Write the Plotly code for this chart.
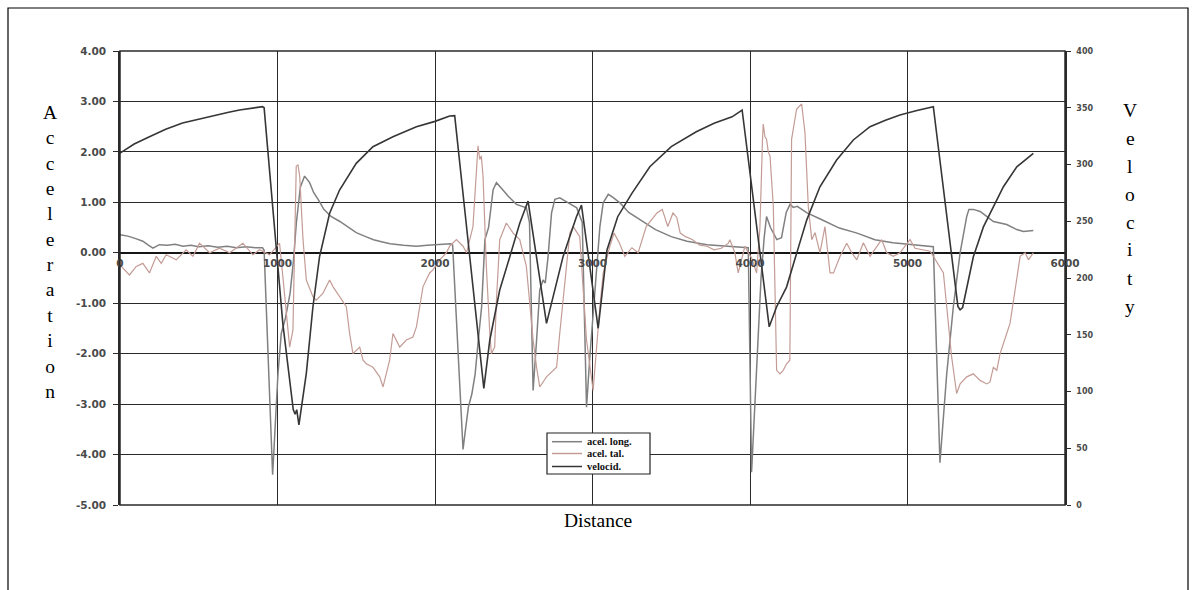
import plotly.graph_objects as go

# ---- lap data: distance (m) vs. acceleration (g) and velocity (km/h) ----
vel_dist = [0, 90, 187, 290, 397, 500, 613, 690, 759, 840, 905, 915, 1034, 1100, 1112, 1122, 1136,
            1183, 1225, 1267, 1331, 1394, 1500, 1606, 1733, 1882, 2000, 2093, 2125, 2220, 2310,
            2348, 2411, 2475, 2538, 2591, 2708, 2813, 2898, 2930, 3036, 3092, 3160, 3250, 3364,
            3500, 3659, 3772, 3886, 3950, 4122, 4169, 4232, 4296, 4360, 4444, 4550, 4656, 4762,
            4860, 4952, 5060, 5164, 5320, 5334, 5350, 5418, 5482, 5545, 5609, 5694, 5799]
vel_kmh = [310, 318, 324.5, 331, 336.5, 340, 343.6, 346, 348, 350, 351, 350, 159.6, 84, 80, 84, 70.5,
           116, 174.7, 218.8, 257, 277.5, 301, 315.7, 324.5, 333.3, 338, 342.7, 343, 219.6, 102.8,
           145.4, 189.4, 218.8, 248.2, 267.8, 160, 218.8, 254, 264.3, 155.7, 224.7, 254, 274.6, 298,
           315.7, 328.9, 336.3, 342, 348, 157, 174.7, 192, 221.7, 251, 280.4, 304, 321.6, 333.3,
           339, 343.6, 347.5, 351, 175, 172, 174, 218.7, 245, 262.8, 280.4, 298, 309.8]

long_dist = [0, 50, 100, 145, 180, 209, 250, 300, 350, 400, 450, 500, 560, 620, 680, 740, 800, 860,
             905, 915, 969, 990, 1003, 1024, 1050, 1080, 1100, 1120, 1145, 1172, 1204, 1230, 1260,
             1294, 1340, 1396, 1450, 1500, 1560, 1610, 1660, 1715, 1800, 1882, 1950, 2030, 2100,
             2112, 2178, 2190, 2212, 2234, 2255, 2275, 2296, 2317, 2340, 2369, 2390, 2430, 2465,
             2517, 2580, 2600, 2623, 2645, 2665, 2686, 2700, 2718, 2740, 2761, 2792, 2830, 2870,
             2900, 2935, 2962, 2983, 3025, 3047, 3068, 3100, 3130, 3174, 3230, 3300, 3400, 3500,
             3600, 3727, 3863, 3950, 3989, 4010, 4040, 4070, 4090, 4105, 4130, 4170, 4200, 4230,
             4254, 4275, 4300, 4362, 4453, 4567, 4680, 4793, 4907, 5020, 5134, 5164, 5206, 5249,
             5291, 5334, 5376, 5390, 5418, 5461, 5503, 5545, 5630, 5694, 5736, 5799]
long_acc = [0.36, 0.33, 0.28, 0.23, 0.15, 0.09, 0.16, 0.15, 0.17, 0.13, 0.15, 0.12, 0.14, 0.11, 0.13,
            0.10, 0.12, 0.10, 0.10, 0.05, -4.40, -3.20, -2.40, -1.60, -1.30, -0.80, -0.20, 0.60, 1.30,
            1.52, 1.39, 1.19, 1.05, 0.86, 0.72, 0.62, 0.50, 0.40, 0.32, 0.26, 0.22, 0.18, 0.15, 0.13,
            0.15, 0.16, 0.18, 0.15, -3.90, -3.59, -3.06, -2.80, -2.40, -1.73, -1.07, 0.26, 0.50, 1.25,
            1.39, 1.25, 1.12, 0.96, 0.89, 0.60, -2.73, -1.73, -0.74, -0.54, -0.60, -0.07, 0.79, 1.06,
            1.09, 1.02, 0.95, 0.89, 0.60, -3.06, -2.07, -0.40, 0.52, 0.99, 1.16, 1.10, 0.99, 0.80,
            0.66, 0.46, 0.32, 0.23, 0.16, 0.13, 0.12, 0.10, -4.35, -2.40, -0.50, 0.30, 0.72, 0.50,
            0.26, 0.30, 0.80, 0.96, 0.90, 0.92, 0.79, 0.66, 0.49, 0.39, 0.26, 0.20, 0.16, 0.13, 0.12,
            -4.16, -2.40, -1.07, 0.00, 0.72, 0.86, 0.86, 0.82, 0.72, 0.62, 0.56, 0.46, 0.42, 0.44]

lat_dist = [0, 30, 60, 103, 145, 187, 230, 262, 293, 357, 420, 463, 505, 569, 632, 696, 780, 844, 886,
            950, 1013, 1034, 1077, 1098, 1119, 1130, 1141, 1162, 1183, 1225, 1246, 1289, 1331, 1352,
            1394, 1437, 1458, 1479, 1522, 1543, 1564, 1606, 1649, 1670, 1712, 1733, 1776, 1818, 1860,
            1882, 1903, 1924, 1966, 1987, 2030, 2072, 2093, 2136, 2178, 2200, 2241, 2263, 2273, 2284,
            2294, 2305, 2326, 2348, 2358, 2379, 2390, 2411, 2453, 2496, 2538, 2580, 2623, 2645, 2665,
            2708, 2772, 2792, 2835, 2856, 2877, 2919, 2962, 3004, 3047, 3068, 3110, 3137, 3170, 3205,
            3250, 3290, 3341, 3409, 3443, 3478, 3511, 3535, 3557, 3591, 3636, 3680, 3727, 3772, 3818,
            3863, 3872, 3904, 3925, 3947, 3968, 3989, 4010, 4042, 4063, 4079, 4084, 4095, 4105, 4116,
            4127, 4148, 4169, 4190, 4211, 4232, 4253, 4264, 4296, 4328, 4349, 4370, 4392, 4413, 4444,
            4476, 4508, 4530, 4572, 4614, 4646, 4678, 4720, 4762, 4804, 4836, 4868, 4910, 4952, 5016,
            5048, 5100, 5143, 5164, 5206, 5228, 5249, 5280, 5312, 5334, 5376, 5418, 5461, 5503, 5524,
            5545, 5567, 5588, 5630, 5651, 5683, 5715, 5747, 5768, 5799]
lat_acc = [-0.24, -0.35, -0.44, -0.27, -0.21, -0.40, -0.07, -0.21, -0.04, -0.14, 0.06, -0.07, 0.19, 0.00,
           0.09, 0.00, 0.19, -0.04, 0.06, -0.04, 0.19, -0.47, -1.87, -1.53, 1.72, 1.74, 1.52, 0.26, -0.54,
           -0.87, -0.94, -0.80, -0.54, -0.67, -0.87, -1.07, -1.60, -2.00, -1.87, -2.13, -2.20, -2.27,
           -2.46, -2.66, -2.13, -1.60, -1.87, -1.73, -1.67, -1.47, -1.07, -0.67, -0.40, -0.34, -0.14,
           0.00, 0.13, 0.26, 0.13, 0.00, 0.52, 1.72, 2.12, 1.85, 1.92, 1.52, -0.27, -1.60, -2.00, -1.87,
           -0.94, 0.26, 0.59, 0.39, 0.26, -0.27, -1.73, -2.27, -2.66, -2.46, -2.27, -1.60, -0.27, 0.39,
           0.52, 0.32, -1.73, -2.73, -1.07, -0.40, 0.13, 0.39, 0.20, -0.07, 0.10, 0.00, 0.52, 0.79, 0.86,
           0.52, 0.79, 0.70, 0.39, 0.32, 0.26, 0.15, 0.13, 0.06, 0.09, 0.19, 0.26, 0.00, -0.40, -0.14,
           0.13, 0.00, -0.10, -0.40, 0.50, 2.20, 2.55, 2.30, 2.25, 2.00, 1.92, 0.92, -2.33, -2.40, -2.33,
           -2.20, -2.13, 2.25, 2.85, 2.95, 2.38, 0.92, 0.26, 0.40, 0.00, 0.52, -0.40, -0.40, -0.07, 0.19,
           0.00, -0.14, 0.20, -0.07, 0.13, 0.26, 0.00, -0.07, 0.00, 0.26, 0.09, 0.05, 0.03, -0.07, -0.27,
           -0.40, -1.07, -2.06, -2.79, -2.60, -2.46, -2.40, -2.53, -2.60, -2.56, -2.27, -2.33, -2.00,
           -1.60, -1.40, -0.74, -0.07, 0.00, -0.14, 0.00]

acc_ticks = [-5, -4, -3, -2, -1, 0, 1, 2, 3, 4]
vel_ticks = [0, 50, 100, 150, 200, 250, 300, 350, 400]
dist_ticks = [0, 1000, 2000, 3000, 4000, 5000, 6000]

series_names = ["acel. long.", "acel. tal.", "velocid."]
series_colors = ["#808080", "#c49c96", "#363636"]

# ---- figure geometry (pixels) ----
W, H = 1196, 590
PL, PR, PT, PB = 120, 1065, 51, 505


def px_x(X):
    return (X - PL) / (PR - PL)


def px_y(Y):
    return (PB - Y) / (PB - PT)


fig = go.Figure()
fig.add_trace(go.Scatter(x=long_dist, y=long_acc, mode="lines", name=series_names[0],
                         line=dict(color=series_colors[0], width=1.5), showlegend=False))
fig.add_trace(go.Scatter(x=lat_dist, y=lat_acc, mode="lines", name=series_names[1],
                         line=dict(color=series_colors[1], width=1.2), showlegend=False))
fig.add_trace(go.Scatter(x=vel_dist, y=vel_kmh, mode="lines", name=series_names[2], yaxis="y2",
                         line=dict(color=series_colors[2], width=1.6), showlegend=False))

left_font = dict(family="DejaVu Sans", size=10.5, color="#4a4a4a", weight="bold")
bottom_font = dict(family="DejaVu Sans", size=10.5, color="#4a4a4a", weight="bold")
right_font = dict(family="DejaVu Sans", size=8, color="#4a4a4a", weight="bold")

fig.update_layout(
    width=W, height=H, autosize=False,
    margin=dict(l=PL, r=W - PR, t=PT, b=H - PB, pad=0),
    paper_bgcolor="white", plot_bgcolor="white",
    xaxis=dict(range=[0, 6000], tickvals=dist_ticks, ticktext=[str(t) for t in dist_ticks],
               anchor="free", position=5 / 9, showgrid=True, gridcolor="#2a2a2a", gridwidth=1.4,
               zeroline=False, showline=False, ticks="", tickfont=bottom_font, ticklabelstandoff=3),
    yaxis=dict(range=[-5, 4], tickvals=acc_ticks, ticktext=[f"{t:.2f}" for t in acc_ticks],
               showgrid=True, gridcolor="#2a2a2a", gridwidth=1.4,
               zeroline=True, zerolinecolor="#151515", zerolinewidth=2.2,
               showline=True, linecolor="#2a2a2a", linewidth=1.5,
               ticks="outside", ticklen=5, tickcolor="#2a2a2a", tickfont=left_font,
               ticklabelstandoff=5),
    yaxis2=dict(range=[0, 400], tickvals=vel_ticks, ticktext=[str(t) for t in vel_ticks],
                overlaying="y", side="right", showgrid=False, zeroline=False,
                showline=True, linecolor="#2a2a2a", linewidth=1.5,
                ticks="outside", ticklen=4, tickcolor="#2a2a2a", tickfont=right_font,
                ticklabelstandoff=4),
)

shapes = [
    # plot border
    dict(type="rect", xref="paper", yref="paper", x0=0, x1=1, y0=0, y1=1,
         line=dict(color="#2a2a2a", width=1.5)),
    # outer frame
    dict(type="rect", xref="paper", yref="paper", x0=px_x(8), x1=px_x(1188),
         y0=px_y(620), y1=px_y(8), line=dict(color="black", width=1.2)),
    # legend box
    dict(type="rect", xref="paper", yref="paper", x0=px_x(547), x1=px_x(650),
         y0=px_y(474), y1=px_y(433), line=dict(color="#222", width=1.2), fillcolor="white"),
]
legend_rows = [441.7, 453.5, 466.5]
annotations = []
for name, color, Y in zip(series_names, series_colors, legend_rows):
    shapes.append(dict(type="line", xref="paper", yref="paper", x0=px_x(552), x1=px_x(582),
                       y0=px_y(Y), y1=px_y(Y), line=dict(color=color, width=1.5)))
    annotations.append(dict(x=px_x(585), y=px_y(Y), xref="paper", yref="paper", text=f"<b>{name}</b>",
                            showarrow=False, xanchor="left", yanchor="middle",
                            font=dict(family="Liberation Serif", size=10.5, color="#111")))

title_font = dict(family="Liberation Serif", size=19.5, color="black")
annotations.append(dict(x=px_x(50), y=px_y(252), xref="paper", yref="paper", showarrow=False,
                        text="<br>".join("Acceleration"), font=title_font,
                        xanchor="center", yanchor="middle"))
# stacked letters of the right-hand title, slightly wider spacing
for i, ch in enumerate("Velocity"):
    annotations.append(dict(x=px_x(1130), y=px_y(110 + 28 * i), xref="paper", yref="paper",
                            showarrow=False, text=ch, font=title_font,
                            xanchor="center", yanchor="middle"))
annotations.append(dict(x=px_x(598), y=px_y(520), xref="paper", yref="paper", showarrow=False,
                        text="Distance", font=title_font, xanchor="center", yanchor="middle"))

fig.update_layout(shapes=shapes, annotations=annotations)
fig.write_html("out.html")
